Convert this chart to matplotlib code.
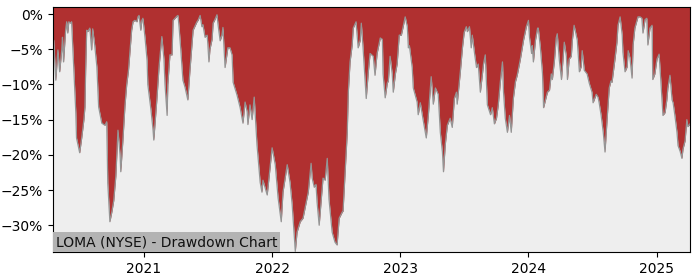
import matplotlib

matplotlib.use("Agg")

import matplotlib.dates as mdates
import matplotlib.pyplot as plt
import pandas as pd
from matplotlib.ticker import FuncFormatter

TITLE = "LOMA (NYSE) - Drawdown Chart"
FILL_COLOR = "#b03030"
LINE_COLOR = "#959595"
BG_COLOR = "#eeeeee"

# drawdown from running peak, in percent
dates_2020 = [
    "2020-04-17", "2020-04-19", "2020-04-25", "2020-05-01", "2020-05-06", "2020-05-12",
    "2020-05-14", "2020-05-17", "2020-05-23", "2020-05-26", "2020-05-29", "2020-06-01",
    "2020-06-06", "2020-06-09", "2020-06-15", "2020-06-21", "2020-06-23", "2020-06-29",
    "2020-07-02", "2020-07-08", "2020-07-14", "2020-07-17", "2020-07-19", "2020-07-22",
    "2020-07-25", "2020-07-31", "2020-08-05", "2020-08-08", "2020-08-14", "2020-08-20",
    "2020-08-25", "2020-09-03", "2020-09-12", "2020-09-17", "2020-09-20", "2020-09-26",
    "2020-10-02", "2020-10-07", "2020-10-13", "2020-10-19", "2020-10-25", "2020-10-27",
    "2020-11-02", "2020-11-08", "2020-11-13", "2020-11-18", "2020-11-27", "2020-12-01",
    "2020-12-06", "2020-12-12", "2020-12-15", "2020-12-18", "2020-12-23", "2020-12-26",
    "2020-12-29",
]
dd_2020 = [
    -4.0, -3.7, -9.4, -5.1, -8.2, -5.1,
    -3.3, -6.8, -2.3, -1.1, -2.7, -1.1,
    -1.3, -1.1, -7.5, -14.0, -17.6, -19.0,
    -19.7, -17.5, -15.0, -13.2, -8.0, -2.3,
    -2.5, -2.0, -5.1, -2.1, -4.5, -7.5,
    -13.2, -15.5, -15.8, -15.3, -24.0, -29.5,
    -28.0, -26.5, -23.0, -16.5, -20.0, -22.4,
    -18.0, -13.0, -10.0, -8.0, -2.3, -1.1,
    -0.9, -1.1, -0.4, -0.2, -2.3, -0.9,
    -0.6,
]

dates_2021 = [
    "2021-01-04", "2021-01-10", "2021-01-12", "2021-01-21", "2021-01-27", "2021-01-29",
    "2021-02-07", "2021-02-13", "2021-02-18", "2021-02-21", "2021-02-27", "2021-03-02",
    "2021-03-08", "2021-03-10", "2021-03-16", "2021-03-22", "2021-03-25", "2021-04-05",
    "2021-04-08", "2021-04-11", "2021-04-16", "2021-04-22", "2021-04-28", "2021-05-04",
    "2021-05-06", "2021-05-12", "2021-05-21", "2021-06-01", "2021-06-04", "2021-06-10",
    "2021-06-15", "2021-06-18", "2021-06-24", "2021-06-30", "2021-07-02", "2021-07-05",
    "2021-07-08", "2021-07-14", "2021-07-17", "2021-07-22", "2021-07-28", "2021-07-31",
    "2021-08-06", "2021-08-11", "2021-08-14", "2021-08-20", "2021-08-28", "2021-09-03",
    "2021-09-09", "2021-09-12", "2021-09-23", "2021-10-02", "2021-10-10", "2021-10-16",
    "2021-10-22", "2021-10-24", "2021-10-30", "2021-11-05", "2021-11-11", "2021-11-19",
    "2021-11-28", "2021-12-03", "2021-12-06", "2021-12-18", "2021-12-26",
]
dd_2021 = [
    -3.3, -6.6, -10.0, -13.6, -16.5, -17.9,
    -12.0, -7.5, -4.8, -3.2, -6.4, -10.0,
    -14.4, -10.0, -5.8, -5.8, -0.9, -0.3,
    -0.2, -1.8, -5.1, -9.4, -10.4, -11.7,
    -12.2, -8.0, -2.3, -1.1, -0.9, -0.2,
    -1.8, -1.5, -3.3, -3.0, -4.3, -6.8,
    -5.0, -3.6, -1.3, -0.8, -0.1, -1.5,
    -3.8, -3.0, -1.9, -7.6, -4.8, -4.8,
    -5.8, -9.7, -11.5, -13.3, -15.5, -12.5,
    -13.9, -15.7, -12.9, -15.0, -11.8, -18.6,
    -23.9, -25.3, -23.6, -25.7, -21.9,
]

dates_2022 = [
    "2022-01-01", "2022-01-10", "2022-01-18", "2022-01-27", "2022-02-01", "2022-02-13",
    "2022-02-21", "2022-02-27", "2022-03-08", "2022-03-13", "2022-03-22", "2022-03-30",
    "2022-04-11", "2022-04-14", "2022-04-22", "2022-04-25", "2022-05-01", "2022-05-06",
    "2022-05-09", "2022-05-15", "2022-05-21", "2022-05-26", "2022-06-01", "2022-06-07",
    "2022-06-12", "2022-06-21", "2022-06-29", "2022-07-05", "2022-07-11", "2022-07-20",
    "2022-07-22", "2022-07-28", "2022-08-03", "2022-08-06", "2022-08-11", "2022-08-17",
    "2022-08-20", "2022-08-28", "2022-09-03", "2022-09-09", "2022-09-12", "2022-09-17",
    "2022-09-26", "2022-10-02", "2022-10-07", "2022-10-16", "2022-10-21", "2022-10-27",
    "2022-11-05", "2022-11-11", "2022-11-13", "2022-11-19", "2022-11-25", "2022-11-28",
    "2022-12-03", "2022-12-09", "2022-12-12", "2022-12-18", "2022-12-23", "2022-12-29",
]
dd_2022 = [
    -19.0, -21.4, -26.1, -29.5, -25.3, -21.4,
    -23.9, -27.0, -33.7, -31.0, -29.5, -29.0,
    -26.0, -25.3, -21.2, -23.3, -24.6, -24.2,
    -26.7, -30.0, -26.3, -23.3, -23.6, -20.5,
    -26.3, -31.0, -32.4, -32.8, -29.0, -28.1,
    -28.0, -22.4, -16.8, -11.1, -6.8, -4.4,
    -2.0, -1.1, -4.8, -3.7, -1.3, -4.8,
    -12.0, -8.2, -5.6, -6.0, -8.7, -5.6,
    -3.4, -3.6, -8.5, -11.9, -9.8, -9.5,
    -6.0, -8.5, -11.1, -8.5, -7.1, -3.0,
]

dates_2023 = [
    "2023-01-04", "2023-01-10", "2023-01-15", "2023-01-21", "2023-01-24", "2023-01-27",
    "2023-02-04", "2023-02-07", "2023-02-18", "2023-02-21", "2023-02-27", "2023-03-08",
    "2023-03-16", "2023-03-22", "2023-03-30", "2023-04-05", "2023-04-11", "2023-04-19",
    "2023-04-25", "2023-05-01", "2023-05-04", "2023-05-09", "2023-05-15", "2023-05-23",
    "2023-05-29", "2023-06-04", "2023-06-10", "2023-06-12", "2023-06-21", "2023-06-27",
    "2023-07-02", "2023-07-08", "2023-07-11", "2023-07-17", "2023-07-22", "2023-07-25",
    "2023-07-31", "2023-08-06", "2023-08-11", "2023-08-17", "2023-08-23", "2023-08-26",
    "2023-08-31", "2023-09-06", "2023-09-15", "2023-09-20", "2023-09-26", "2023-10-02",
    "2023-10-07", "2023-10-13", "2023-10-19", "2023-10-22", "2023-10-27", "2023-11-02",
    "2023-11-08", "2023-11-13", "2023-11-19", "2023-11-25", "2023-11-30", "2023-12-09",
    "2023-12-18", "2023-12-26",
]
dd_2023 = [
    -3.0, -1.6, -0.4, -1.8, -4.8, -4.5,
    -7.6, -10.5, -12.5, -14.3, -12.6, -15.3,
    -17.6, -14.3, -8.9, -12.8, -10.5, -11.4,
    -16.8, -19.6, -22.4, -18.6, -15.8, -14.8,
    -16.1, -12.0, -11.1, -12.8, -8.2, -4.8,
    -2.6, -1.8, -2.5, -1.8, -4.8, -3.0,
    -5.4, -7.6, -7.1, -11.1, -8.5, -7.1,
    -5.8, -12.9, -14.3, -13.3, -15.6, -14.8,
    -12.9, -9.6, -6.8, -11.1, -14.8, -16.8,
    -14.4, -16.8, -12.0, -9.6, -8.7, -6.4,
    -3.7, -1.8,
]

dates_2024 = [
    "2024-01-01", "2024-01-04", "2024-01-10", "2024-01-12", "2024-01-15", "2024-01-21",
    "2024-01-27", "2024-01-29", "2024-02-04", "2024-02-10", "2024-02-13", "2024-02-18",
    "2024-02-24", "2024-03-01", "2024-03-06", "2024-03-09", "2024-03-15", "2024-03-20",
    "2024-03-23", "2024-03-29", "2024-04-04", "2024-04-09", "2024-04-12", "2024-04-18",
    "2024-04-21", "2024-04-26", "2024-05-02", "2024-05-05", "2024-05-10", "2024-05-16",
    "2024-05-19", "2024-05-25", "2024-05-30", "2024-06-02", "2024-06-08", "2024-06-16",
    "2024-06-22", "2024-06-30", "2024-07-03", "2024-07-12", "2024-07-17", "2024-07-20",
    "2024-07-26", "2024-08-01", "2024-08-06", "2024-08-12", "2024-08-18", "2024-08-23",
    "2024-08-26", "2024-08-29", "2024-09-04", "2024-09-09", "2024-09-12", "2024-09-18",
    "2024-09-24", "2024-09-26", "2024-10-02", "2024-10-08", "2024-10-11", "2024-10-16",
    "2024-10-22", "2024-10-25", "2024-10-30", "2024-11-05", "2024-11-08", "2024-11-14",
    "2024-11-19", "2024-11-22", "2024-11-28", "2024-12-03", "2024-12-06", "2024-12-12",
    "2024-12-18", "2024-12-20", "2024-12-26",
]
dd_2024 = [
    -0.9, -3.3, -5.6, -4.5, -6.8, -3.7,
    -2.0, -2.0, -4.8, -8.5, -13.3, -12.3,
    -11.1, -10.8, -8.5, -9.3, -6.6, -3.4,
    -2.8, -6.6, -9.3, -6.0, -4.0, -6.0,
    -9.3, -6.4, -6.0, -3.7, -1.6, -3.0,
    -3.7, -8.2, -7.5, -5.2, -8.0, -8.5,
    -9.8, -11.1, -12.6, -11.4, -11.8, -12.5,
    -14.4, -16.8, -19.6, -14.9, -10.5, -9.5,
    -9.7, -8.5, -6.2, -4.0, -1.6, -0.4,
    -3.0, -5.4, -8.2, -7.5, -5.2, -6.2,
    -9.1, -4.4, -2.0, -0.9, -0.4, -0.4,
    -0.6, -2.7, -0.8, -0.6, -4.4, -2.0,
    -1.6, -9.3, -8.5,
]

dates_2025 = [
    "2025-01-01", "2025-01-07", "2025-01-12", "2025-01-18", "2025-01-24", "2025-01-29",
    "2025-02-01", "2025-02-07", "2025-02-13", "2025-02-16", "2025-02-21", "2025-02-27",
    "2025-03-02", "2025-03-08", "2025-03-13", "2025-03-16", "2025-03-22", "2025-03-27",
    "2025-03-30", "2025-04-05",
]
dd_2025 = [
    -6.4, -5.7, -9.5, -14.4, -14.0, -12.2,
    -10.5, -8.7, -12.2, -12.6, -14.4, -16.8,
    -18.7, -19.5, -20.5, -19.2, -18.0, -15.0,
    -16.0, -15.6,
]

dates = pd.to_datetime(dates_2020 + dates_2021 + dates_2022 + dates_2023 + dates_2024 + dates_2025)
drawdown = dd_2020 + dd_2021 + dd_2022 + dd_2023 + dd_2024 + dd_2025

Y_TOP = 1.0
Y_BOTTOM = -33.8

fig = plt.figure(figsize=(7, 2.8), dpi=100)
ax = fig.add_axes([0.0757, 0.1, 0.91, 0.875])
ax.set_facecolor(BG_COLOR)

ax.fill_between(dates, drawdown, Y_TOP, color=FILL_COLOR, linewidth=0)
ax.plot(dates, drawdown, color=LINE_COLOR, linewidth=0.9)

ax.set_xlim(dates.min(), dates.max())
ax.set_ylim(Y_BOTTOM, Y_TOP)
ax.set_yticks([0, -5, -10, -15, -20, -25, -30])
ax.yaxis.set_major_formatter(FuncFormatter(lambda v, _: f"{v:.0f}%".replace("-", "\u2212")))
ax.xaxis.set_major_locator(mdates.YearLocator())
ax.xaxis.set_major_formatter(mdates.DateFormatter("%Y"))

ax.text(0.0047, 0.012, TITLE, transform=ax.transAxes, ha="left", va="bottom",
        fontsize=10, color="#111111", zorder=5,
        bbox=dict(boxstyle="square,pad=0.2", facecolor="#b3b3b3", edgecolor="none"))

fig.savefig("out.png", dpi=100)
